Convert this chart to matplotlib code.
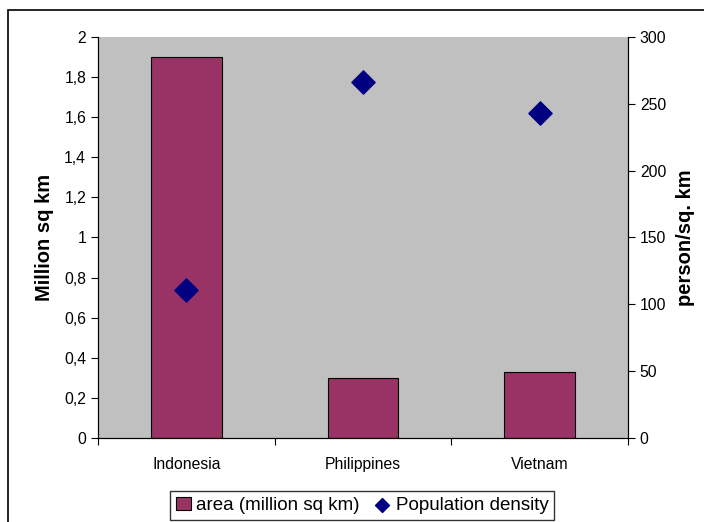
import numpy as np
import matplotlib.pyplot as plt
from matplotlib.patches import Rectangle
from matplotlib.ticker import FuncFormatter, MultipleLocator

countries = ["Indonesia", "Philippines", "Vietnam"]
area = [1.9, 0.3, 0.33]
density = [111, 266, 243]

plt.rcParams['font.family'] = ['Liberation Sans', 'DejaVu Sans']

fig = plt.figure(figsize=(7.04, 5.22), dpi=100)
ax = fig.add_axes([98/704, 1-438/522, 530/704, 401/522])
ax.set_facecolor('#C0C0C0')

x = np.arange(len(countries))
bars = ax.bar(x, area, width=0.4, color='#993366', edgecolor='black', linewidth=0.8,
              label="area (million sq km)", zorder=2)
ax.set_xlim(-0.5, len(countries) - 0.5)
ax.set_ylim(0, 2)
ax.yaxis.set_major_locator(MultipleLocator(0.2))
ax.yaxis.set_major_formatter(FuncFormatter(lambda v, p: ("%g" % round(v, 1)).replace('.', ',')))
ax.set_xticks(np.arange(-0.5, len(countries), 1.0))
ax.set_xticklabels([])
ax.set_xticks(x, minor=True)
ax.set_xticklabels(countries, minor=True)
ax.tick_params(axis='x', which='minor', length=0, pad=14, labelsize=11.3)
ax.tick_params(axis='x', which='major', length=5, direction='out')
ax.tick_params(axis='y', length=5, direction='out', labelsize=11.3)
ax.set_ylabel("Million sq km", fontsize=14.5, fontweight='bold', labelpad=7)

ax2 = ax.twinx()
pts = ax2.scatter(x, density, marker='D', s=140, color='#000080', label="Population density", zorder=3)
ax2.set_ylim(0, 300)
ax2.yaxis.set_major_locator(MultipleLocator(50))
ax2.tick_params(axis='y', length=5, direction='out', labelsize=11.3)
ax2.set_ylabel("person/sq. km", fontsize=14.5, fontweight='bold', labelpad=7)

for a in (ax, ax2):
    for s in a.spines.values():
        s.set_linewidth(0.8)
ax.spines['top'].set_visible(False)
ax2.spines['top'].set_visible(False)

fig.legend([bars, pts], ["area (million sq km)", "Population density"], loc='upper center',
           bbox_to_anchor=(362/704, 1-482/522), ncol=2, fontsize=13.5, frameon=True,
           fancybox=False, edgecolor='black', handlelength=0.8, handletextpad=0.3,
           columnspacing=0.8, borderpad=0.3, markerscale=0.6)

fig.patches.append(Rectangle((8/704, -0.1), 1.0, 1.1 - 10/522, transform=fig.transFigure,
                             fill=False, edgecolor='black', linewidth=1.2))

fig.savefig("out.png", dpi=100)
